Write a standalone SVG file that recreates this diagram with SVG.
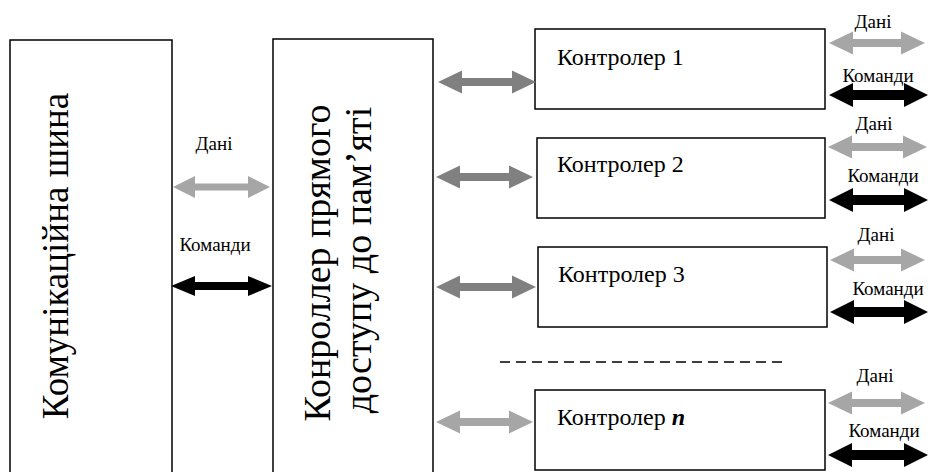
<svg xmlns="http://www.w3.org/2000/svg" width="928" height="472" viewBox="0 0 928 472">
<style>
text{font-family:"Liberation Serif","Times New Roman",serif;fill:#000}
.box{fill:#fff;stroke:#000;stroke-width:1.5}
.big{font-size:37px}
.mid{font-size:38px}
.ctl{font-size:24px}
.lbl{font-size:19px}
.data{fill:#a6a6a6}
.link{fill:#808080}
.cmd{fill:#000}
</style>
<rect width="928" height="472" fill="#fff"/>
<g id="bus">
<rect class="box" x="10" y="40" width="162" height="445"/>
<text class="big" transform="translate(68,256) rotate(-90)" text-anchor="middle">Комунікаційна шина</text>
</g>
<g id="dma">
<rect class="box" x="273" y="39" width="160" height="445"/>
<text class="mid" transform="translate(330,263) rotate(-90)" text-anchor="middle">Конроллер прямого</text>
<text class="mid" transform="translate(371,260) rotate(-90)" text-anchor="middle">доступу до пам’яті</text>
</g>
<g id="c1">
<rect class="box" x="535" y="29" width="290" height="80"/>
<text class="ctl" x="557" y="65">Контролер 1</text>
</g>
<g id="c2">
<rect class="box" x="537" y="138" width="288" height="80"/>
<text class="ctl" x="557" y="172">Контролер 2</text>
</g>
<g id="c3">
<rect class="box" x="538" y="247" width="289" height="80"/>
<text class="ctl" x="558" y="282">Контролер 3</text>
</g>
<g id="cn">
<rect class="box" x="535" y="390" width="290" height="80"/>
<text class="ctl" x="557" y="425">Контролер <tspan font-style="italic" font-weight="bold">n</tspan></text>
</g>
<g id="dots">
<line x1="500" y1="362" x2="787" y2="362" stroke="#000" stroke-width="1.5" stroke-dasharray="10 6"/>
</g>
<g id="connectors">
<path class="data" d="M173,187 L195,176 L195,183.5 L248,183.5 L248,176 L270,187 L248,198 L248,190.5 L195,190.5 L195,198 Z"/>
<path class="cmd" d="M171,286 L195,276 L195,282 L248,282 L248,276 L272,286 L248,296 L248,290 L195,290 L195,296 Z"/>
<path class="link" d="M438,82 L462,70.5 L462,78 L512,78 L512,70.5 L536,82 L512,93.5 L512,86 L462,86 L462,93.5 Z"/>
<path class="link" d="M436,177 L460,165.5 L460,173 L509,173 L509,165.5 L533,177 L509,188.5 L509,181 L460,181 L460,188.5 Z"/>
<path class="link" d="M436,287 L460,275.5 L460,283 L512,283 L512,275.5 L536,287 L512,298.5 L512,291 L460,291 L460,298.5 Z"/>
<path class="data" d="M436,422 L460,410.5 L460,418 L509,418 L509,410.5 L533,422 L509,433.5 L509,426 L460,426 L460,433.5 Z"/>
<path class="data" d="M829,43 L853,31.5 L853,39 L901,39 L901,31.5 L925,43 L901,54.5 L901,47 L853,47 L853,54.5 Z"/>
<path class="cmd" d="M829,95 L853,83 L853,90 L904,90 L904,83 L928,95 L904,107 L904,100 L853,100 L853,107 Z"/>
<path class="data" d="M828,147 L852,135.5 L852,143 L903,143 L903,135.5 L927,147 L903,158.5 L903,151 L852,151 L852,158.5 Z"/>
<path class="cmd" d="M829,200 L853,188 L853,195 L904,195 L904,188 L928,200 L904,212 L904,205 L853,205 L853,212 Z"/>
<path class="data" d="M830,260 L854,248.5 L854,256 L901,256 L901,248.5 L925,260 L901,271.5 L901,264 L854,264 L854,271.5 Z"/>
<path class="cmd" d="M830,312 L854,300 L854,307 L904,307 L904,300 L928,312 L904,324 L904,317 L854,317 L854,324 Z"/>
<path class="data" d="M828,403 L852,391.5 L852,399 L901,399 L901,391.5 L925,403 L901,414.5 L901,407 L852,407 L852,414.5 Z"/>
<path class="cmd" d="M828,455 L852,443 L852,450 L904,450 L904,443 L928,455 L904,467 L904,460 L852,460 L852,467 Z"/>
<text class="lbl" x="214" y="150" text-anchor="middle">Дані</text>
<text class="lbl" x="215" y="251" text-anchor="middle">Команди</text>
<text class="lbl" x="873" y="28" text-anchor="middle">Дані</text>
<text class="lbl" x="878" y="82" text-anchor="middle">Команди</text>
<text class="lbl" x="874" y="130" text-anchor="middle">Дані</text>
<text class="lbl" x="883" y="182" text-anchor="middle">Команди</text>
<text class="lbl" x="876" y="241" text-anchor="middle">Дані</text>
<text class="lbl" x="888" y="295" text-anchor="middle">Команди</text>
<text class="lbl" x="875" y="382" text-anchor="middle">Дані</text>
<text class="lbl" x="884" y="437" text-anchor="middle">Команди</text>
</g>
</svg>
